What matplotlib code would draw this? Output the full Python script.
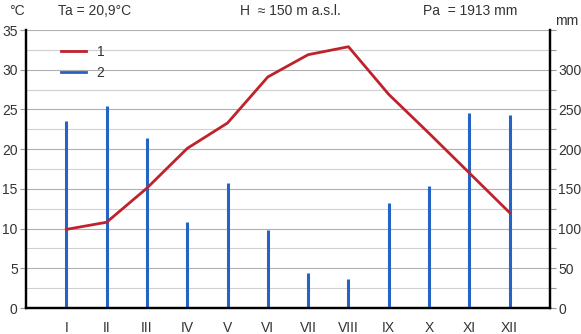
import matplotlib.pyplot as plt
from matplotlib.ticker import MultipleLocator

months = ['I', 'II', 'III', 'IV', 'V', 'VI', 'VII', 'VIII', 'IX', 'X', 'XI', 'XII']
temperature = [9.9, 10.8, 15.1, 20.1, 23.3, 29.1, 31.9, 32.9, 26.9, 22.0, 17.0, 12.0]
precipitation = [236, 255, 214, 108, 158, 98, 44, 36, 132, 154, 245, 243]

plt.rcParams['font.family'] = ['Liberation Sans', 'DejaVu Sans']
text_color = '#333333'
red = '#c0222c'
blue = '#2364c4'

fig = plt.figure(figsize=(5.81, 3.34), dpi=100)
ax = fig.add_axes([0.0448, 0.0778, 0.9018, 0.8322])
ax2 = ax.twinx()

x = list(range(1, 13))
ax.set_xlim(0, 13)
ax.set_ylim(0, 35)
ax2.set_ylim(0, 350)

# bars and grid live on the lower (right) axis, line on top
ax2.vlines(x, 0, precipitation, color=blue, linewidth=2.2, zorder=3)
ax.plot(x, temperature, color=red, linewidth=2, zorder=4, label='1')
ax.plot([], [], color=blue, linewidth=2, label='2')
ax.set_zorder(ax2.get_zorder() + 1)
ax.patch.set_visible(False)
ax2.patch.set_visible(True)
ax2.patch.set_facecolor('white')

ax.yaxis.set_major_locator(MultipleLocator(5))
ax.set_xticks(x)
ax.set_xticklabels(months)

ax2.set_yticks([0, 50, 100, 150, 200, 250, 300, 350])
ax2.set_yticklabels(['0', '50', '100', '150', '200', '250', '300', ''])
ax2.yaxis.set_minor_locator(MultipleLocator(25))
ax2.grid(axis='y', which='major', color='#b0b0b0', linewidth=0.8)
ax2.grid(axis='y', which='minor', color='#d0d0d0', linewidth=0.8)
ax2.grid(axis='x', color='#d0d0d0', linewidth=0.8)
ax2.set_axisbelow(True)

for a in (ax, ax2):
    a.spines['top'].set_visible(False)
    for s in ('left', 'right', 'bottom'):
        a.spines[s].set_color('black')
        a.spines[s].set_linewidth(1.6)
ax.tick_params(axis='x', length=0, pad=9, labelsize=10, labelcolor=text_color)
ax.tick_params(axis='y', which='major', length=4, width=0.8, color='#999999', pad=2, labelsize=10, labelcolor=text_color)
ax2.tick_params(axis='y', which='both', length=4, width=0.8, color='#999999', pad=2, labelsize=10, labelcolor=text_color)

ax.legend(loc='upper left', bbox_to_anchor=(0.05, 0.975), frameon=False,
          handlelength=1.8, fontsize=10, labelcolor=text_color, borderaxespad=0.2)

fig.text(0.015, 0.955, '°C', fontsize=10, color=text_color)
fig.text(0.10, 0.955, 'Ta = 20,9°C', fontsize=10, color=text_color)
fig.text(0.50, 0.955, 'H  ≈ 150 m a.s.l.', fontsize=10, color=text_color, ha='center')
fig.text(0.81, 0.955, 'Pa  = 1913 mm', fontsize=10, color=text_color, ha='center')
fig.text(0.955, 0.925, 'mm', fontsize=10, color=text_color)

fig.savefig('out.png', dpi=100)
